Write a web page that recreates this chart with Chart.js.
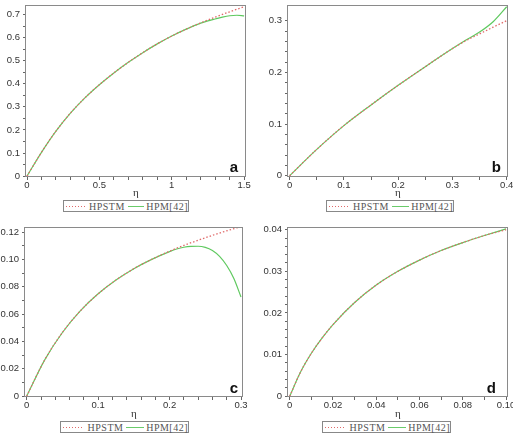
<!DOCTYPE html>
<html>
<head>
<meta charset="utf-8">
<script src="https://cdn.jsdelivr.net/npm/chart.js@4.4.0/dist/chart.umd.min.js"></script>
<style>
  html, body { margin: 0; padding: 0; background: #fff; overflow: hidden; }
  #wrap { position: relative; width: 513px; height: 434px; }
  #wrap canvas { position: absolute; }
  .legend { position: absolute; height: 12px; box-sizing: border-box; border: 1px solid #888; display: flex; align-items: center;
            font: 10px "Liberation Serif", serif; color: #555; letter-spacing: 0.5px; white-space: nowrap; }
  .legend .dot { display: inline-block; height: 1px; background: repeating-linear-gradient(to right, #e06a6a 0 1px, transparent 1px 3px); }
  .legend .sol { display: inline-block; height: 1px; background: #6acb6a; }
</style>
</head>
<body>
<div id="wrap"></div>
<script>
// panel a
var aEta     = [0, 0.1, 0.2, 0.3, 0.4, 0.5, 0.6, 0.7, 0.8, 0.9, 1.0, 1.1, 1.2, 1.3, 1.4, 1.5];
var aHPSTM   = [0, 0.103, 0.195, 0.273, 0.339, 0.396, 0.447, 0.493, 0.535, 0.573, 0.607, 0.637, 0.664, 0.689, 0.712, 0.734];
var aEtaHPM  = [0, 0.1, 0.2, 0.3, 0.4, 0.5, 0.6, 0.7, 0.8, 0.9, 1.0, 1.1, 1.2, 1.25, 1.3, 1.35, 1.4, 1.45, 1.5];
var aHPM     = [0, 0.103, 0.195, 0.273, 0.339, 0.396, 0.447, 0.493, 0.535, 0.573, 0.607, 0.637, 0.663, 0.673, 0.681, 0.689, 0.695, 0.697, 0.694];
var aXLabels = ['0', '0.5', '1', '1.5'];
var aYLabels = ['0', '0.1', '0.2', '0.3', '0.4', '0.5', '0.6', '0.7'];

// panel b
var bEta     = [0, 0.05, 0.1, 0.15, 0.2, 0.25, 0.3, 0.325, 0.35, 0.375, 0.4];
var bHPSTM   = [0, 0.051, 0.097, 0.137, 0.175, 0.211, 0.246, 0.2615, 0.2745, 0.2875, 0.300];
var bHPM     = [0, 0.051, 0.097, 0.137, 0.175, 0.211, 0.246, 0.2625, 0.278, 0.298, 0.327];
var bXLabels = ['0', '0.1', '0.2', '0.3', '0.4'];
var bYLabels = ['0', '0.1', '0.2', '0.3'];

// panel c
var cEta     = [0, 0.025, 0.05, 0.075, 0.1, 0.125, 0.15, 0.175, 0.2, 0.225, 0.25, 0.275, 0.3];
var cHPSTM   = [0, 0.0263, 0.0465, 0.0623, 0.0748, 0.0849, 0.0932, 0.1000, 0.1060, 0.1112, 0.1158, 0.1201, 0.1240];
var cEtaHPM  = [0, 0.025, 0.05, 0.075, 0.1, 0.125, 0.15, 0.175, 0.2, 0.21, 0.22, 0.23, 0.24, 0.25, 0.26, 0.27, 0.28, 0.29, 0.3];
var cHPM     = [0, 0.0263, 0.0465, 0.0623, 0.0748, 0.0849, 0.0932, 0.1000, 0.1057, 0.1076, 0.1089, 0.1095, 0.1096, 0.1088, 0.1065, 0.1022, 0.0955, 0.0860, 0.0725];
var cXLabels = ['0', '0.1', '0.2', '0.3'];
var cYLabels = ['0', '0.02', '0.04', '0.06', '0.08', '0.10', '0.12'];

// panel d
var dEta     = [0, 0.005, 0.01, 0.015, 0.02, 0.03, 0.04, 0.05, 0.06, 0.07, 0.08, 0.09, 0.1];
var dHPSTM   = [0, 0.0058, 0.0103, 0.0140, 0.0172, 0.0225, 0.0267, 0.0300, 0.0327, 0.0350, 0.0369, 0.0386, 0.0400];
var dHPM     = [0, 0.0058, 0.0103, 0.0140, 0.0172, 0.0225, 0.0267, 0.0300, 0.0327, 0.0350, 0.0369, 0.0386, 0.0402];
var dXLabels = ['0', '0.02', '0.04', '0.06', '0.08', '0.10'];
var dYLabels = ['0', '0.01', '0.02', '0.03', '0.04'];

var RED = '#e06a6a', GREEN = '#5fc95f';

var panels = [
  { letter: 'a', left: 0,   top: 0,   w: 256, h: 200, area: { l: 26, t: 5,  r: 246, b: 177 }, lm: 8,  bm: 5,
    x: [-0.007, 1.513, 0.1, aXLabels], y: [-0.004, 0.7415, 0.05, aYLabels], s: [aEta, aHPSTM], m: [aEtaHPM, aHPM],
    legend: { left: 63, top: 200, width: 126 } },
  { letter: 'b', left: 256, top: 0,   w: 257, h: 200, area: { l: 32, t: 5,  r: 252, b: 177 }, lm: 7,  bm: 5,
    x: [-0.003, 0.4024, 0.05, bXLabels], y: [-0.0025, 0.3304, 0.02, bYLabels], s: [bEta, bHPSTM], m: [bEta, bHPM],
    legend: { left: 326, top: 200, width: 128 } },
  { letter: 'c', left: 0,   top: 217, w: 256, h: 204, area: { l: 25, t: 10, r: 243, b: 180 }, lm: 5,  bm: 4,
    x: [-0.0024, 0.3028, 0.02, cXLabels], y: [-0.0007, 0.1237, 0.01, cYLabels], s: [cEta, cHPSTM], m: [cEtaHPM, cHPM],
    legend: { left: 60, top: 421, width: 129 } },
  { letter: 'd', left: 256, top: 217, w: 257, h: 204, area: { l: 32, t: 10, r: 252, b: 180 }, lm: 12, bm: 4,
    x: [-0.0008, 0.1009, 0.01, dXLabels], y: [-0.0002, 0.04065, 0.002, dYLabels], s: [dEta, dHPSTM], m: [dEta, dHPM],
    legend: { left: 322, top: 421, width: 129 } }
];

function pts(xs, ys){ return xs.map(function(x, i){ return { x: x, y: ys[i] }; }); }
function tickValues(max, step){
  var t = [];
  for (var i = 0; i * step <= max + 1e-9; i++) t.push(Math.round(i * step * 1e6) / 1e6);
  return t;
}
function labelFor(v, labels){
  for (var i = 0; i < labels.length; i++) if (Math.abs(parseFloat(labels[i]) - v) < 1e-7) return labels[i];
  return '';
}

var framePlugin = {
  id: 'frame',
  afterDraw: function(chart){
    var a = chart.chartArea, ctx = chart.ctx, p = chart.options.plugins.frame;
    ctx.save();
    ctx.strokeStyle = '#8a8a8a'; ctx.lineWidth = 1;
    ctx.strokeRect(Math.round(a.left) - 0.5, Math.round(a.top) + 0.5, Math.round(a.right - a.left), Math.round(a.bottom - a.top) - 1);
    ctx.fillStyle = '#111';
    ctx.font = 'bold 15px "Liberation Sans", Arial, sans-serif';
    ctx.textAlign = 'right'; ctx.textBaseline = 'alphabetic';
    ctx.fillText(p.letter, a.right - p.lm, a.bottom - p.bm);
    ctx.restore();
  }
};

var tickFont = { family: '"Liberation Sans", Arial, sans-serif', size: 9.5 };
var wrap = document.getElementById('wrap');

panels.forEach(function(p){
  var cv = document.createElement('canvas');
  cv.width = p.w; cv.height = p.h;
  cv.style.left = p.left + 'px'; cv.style.top = p.top + 'px';
  cv.style.width = p.w + 'px'; cv.style.height = p.h + 'px';
  wrap.appendChild(cv);

  var xLab = p.x[3], yLab = p.y[3];
  var xTicks = tickValues(parseFloat(xLab[xLab.length - 1]), p.x[2]);
  var yTicks = tickValues(parseFloat(yLab[yLab.length - 1]), p.y[2]);

  new Chart(cv, {
    type: 'line',
    data: {
      datasets: [
        { label: 'HPSTM', data: pts(p.s[0], p.s[1]), borderColor: RED, borderWidth: 1.3, borderDash: [1.5, 2],
          pointRadius: 0, fill: false, cubicInterpolationMode: 'monotone' },
        { label: 'HPM[42]', data: pts(p.m[0], p.m[1]), borderColor: GREEN, borderWidth: 1.2,
          pointRadius: 0, fill: false, cubicInterpolationMode: 'monotone' }
      ]
    },
    options: {
      responsive: false, animation: false, events: [],
      layout: { padding: { top: p.area.t, right: p.w - p.area.r, left: 0, bottom: 0 } },
      plugins: { legend: { display: false }, tooltip: { enabled: false }, frame: { letter: p.letter, lm: p.lm, bm: p.bm } },
      scales: {
        x: {
          type: 'linear', min: p.x[0], max: p.x[1],
          afterBuildTicks: function(s){ s.ticks = xTicks.map(function(v){ return { value: v }; }); },
          afterFit: function(s){ s.height = p.h - p.area.b; s.paddingLeft = 0; s.paddingRight = 0; },
          ticks: { autoSkip: false, maxRotation: 0, padding: 0, color: '#333', font: tickFont,
                   callback: function(v){ return labelFor(v, xLab); } },
          grid: { drawOnChartArea: false, tickLength: 3, color: '#666' },
          border: { display: false },
          title: { display: true, text: 'η', color: '#333', padding: 0,
                   font: { family: '"Liberation Serif", serif', size: 11 } }
        },
        y: {
          type: 'linear', min: p.y[0], max: p.y[1],
          afterBuildTicks: function(s){ s.ticks = yTicks.map(function(v){ return { value: v }; }); },
          afterFit: function(s){ s.width = p.area.l; s.paddingTop = 0; s.paddingBottom = 0; },
          ticks: { autoSkip: false, padding: 3, color: '#333', font: tickFont,
                   callback: function(v){ return labelFor(v, yLab); } },
          grid: { drawOnChartArea: false, tickLength: 3, color: '#666' },
          border: { display: false }
        }
      }
    },
    plugins: [framePlugin]
  });

  // legend box under each panel
  var lg = document.createElement('div');
  lg.className = 'legend';
  lg.style.left = p.legend.left + 'px'; lg.style.top = p.legend.top + 'px'; lg.style.width = p.legend.width + 'px';
  lg.innerHTML = '<span class="dot" style="width:22px;margin:0 4px 0 2px"></span><span>HPSTM</span>' +
                 '<span class="sol" style="width:19px;margin:0 2px 0 3px"></span><span>HPM[42]</span>';
  wrap.appendChild(lg);
});
</script>
</body>
</html>
